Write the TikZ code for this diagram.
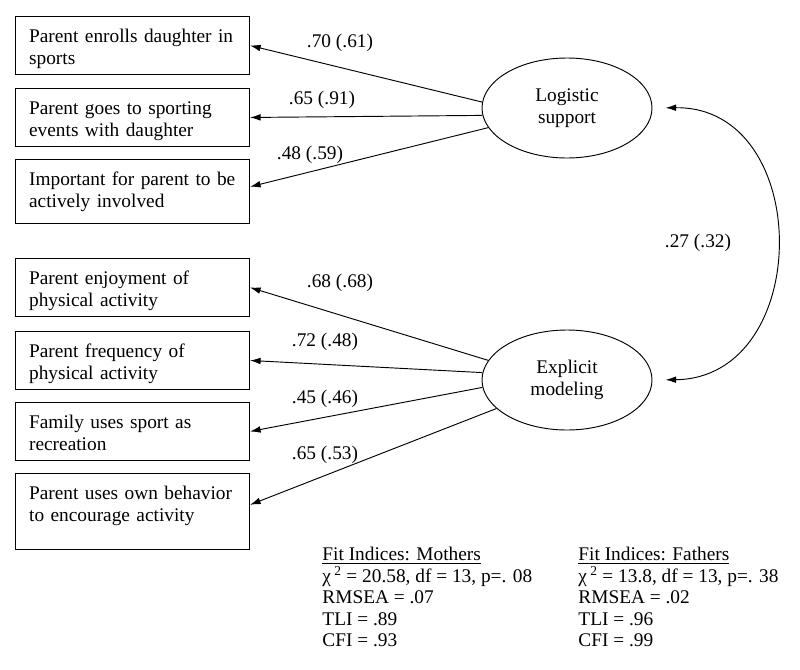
\documentclass[tikz,border=0pt]{standalone}
\usepackage{fontspec}
\setmainfont{Liberation Serif}
\usetikzlibrary{shapes.geometric,arrows.meta}

\tikzset{
  indicator/.style={draw, rectangle, anchor=north west, text width=62mm, inner xsep=4.1mm,
    inner ysep=3pt, text height=19.2pt, text depth=24.3pt, align=left,
    font=\fontsize{16.5}{18.8}\selectfont},
  factor/.style={draw, ellipse, minimum width=51mm, minimum height=30mm, align=center,
    font=\fontsize{16.5}{18.3}\selectfont},
  loading/.style={inner sep=1pt, font=\fontsize{16.5}{18.3}\selectfont},
  fitbox/.style={anchor=north west, inner sep=0pt, align=left,
    font=\fontsize{16.5}{18.35}\selectfont}
}

\begin{document}
\begin{tikzpicture}[x=0.3mm, y=-0.3mm, >={Latex[length=3.2mm,width=2mm]}, line width=0.8pt]
  \useasboundingbox (0,0) rectangle (800,669);

  % indicators
  \node[indicator] (enroll) at (15,16) {Parent enrolls daughter in\\sports};
  \node[indicator] (events) at (15,88) {Parent goes to sporting\\events with daughter};
  \node[indicator, text depth=29.4pt] (involved) at (15,159) {Important for parent to be\\actively involved};
  \node[indicator] (enjoy) at (15,258) {Parent enjoyment of\\physical activity};
  \node[indicator] (freq) at (15,331) {Parent frequency of\\physical activity};
  \node[indicator] (recreation) at (15,402) {Family uses sport as\\recreation};
  \node[indicator, text depth=39.7pt] (behavior) at (15,473) {Parent uses own behavior\\to encourage activity};

  % latent factors
  \node[factor] (LS) at (567,108) {Logistic\\support};
  \node[factor] (EM) at (567,380) {Explicit\\modeling};

  % loadings
  \draw[->] (LS.176) -- (enroll.east);
  \draw[->] (LS.185) -- (events.east);
  \draw[->] (LS.194) -- ([yshift=1.4mm]involved.east);
  \draw[->] (EM.166) -- (enjoy.east);
  \draw[->] (EM.175) -- (freq.east);
  \draw[->] (EM.185) -- (recreation.east);
  \draw[->] (EM.202) -- ([yshift=2mm]behavior.east);

  \node[loading] (w1) at (340,43) {.70 (.61)};
  \node[loading] (w2) at (322,100) {.65 (.91)};
  \node[loading] (w3) at (310,155) {.48 (.59)};
  \node[loading] (w4) at (340,283) {.68 (.68)};
  \node[loading] (w5) at (325,342) {.72 (.48)};
  \node[loading] (w6) at (325,399) {.45 (.46)};
  \node[loading] (w7) at (325,455) {.65 (.53)};

  % correlation
  \draw[<->, shorten <=3.9mm, shorten >=3.9mm] (LS.east) .. controls (814,106) and (814,378) .. (EM.east);
  \node[loading] (r1) at (698,243) {.27 (.32)};

  % fit indices
  \node[fitbox] (mothers) at (322,547) {\underline{Fit Indices: Mothers}\\
    χ\,\textsuperscript{2} = 20.58, df = 13, p=. 08\\
    RMSEA = .07\\
    TLI = .89\\
    CFI = .93};
  \node[fitbox] (fathers) at (578,547) {\underline{Fit Indices: Fathers}\\
    χ\,\textsuperscript{2} = 13.8, df = 13, p=. 38\\
    RMSEA = .02\\
    TLI = .96\\
    CFI = .99};
\end{tikzpicture}
\end{document}
